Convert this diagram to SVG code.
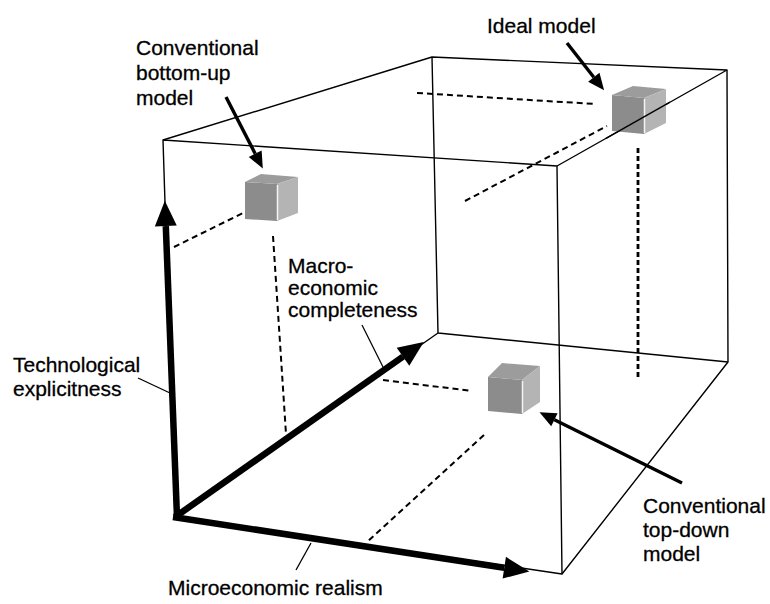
<svg xmlns="http://www.w3.org/2000/svg" width="770" height="604" viewBox="0 0 770 604">
<style>
.edge{fill:none;stroke:#000;stroke-width:1.4;stroke-linejoin:round}
.axis{fill:none;stroke:#000;stroke-width:6.5}
.dash{fill:none;stroke:#000;stroke-width:2;stroke-dasharray:6,4}
.dot{fill:none;stroke:#000;stroke-width:2.8;stroke-dasharray:5,3}
.lead{fill:none;stroke:#000;stroke-width:1.3}
.pointer{fill:none;stroke:#000;stroke-width:3.4}
.front{fill:#8c8c8c}
.top{fill:#9c9c9c}
.right{fill:#b4b4b4}
.hl{stroke:#f4f4f4;stroke-width:1.5}
text{font-family:"Liberation Sans",Arial,sans-serif;font-size:21px;fill:#000;stroke:#000;stroke-width:0.3}
</style>
<defs>
<marker id="bigHead" markerUnits="userSpaceOnUse" markerWidth="30" markerHeight="30" refX="0" refY="0" orient="auto" viewBox="-2 -12 26 24" overflow="visible">
<path d="M0,-9.5 L22,0 L0,9.5 z" fill="#000"/>
</marker>
<marker id="smallHead" markerUnits="userSpaceOnUse" markerWidth="20" markerHeight="20" refX="0" refY="0" orient="auto" viewBox="-2 -8 18 16" overflow="visible">
<path d="M0,-6.5 L15,0 L0,6.5 z" fill="#000"/>
</marker>
</defs>

<g id="box">
<path class="edge" d="M163,140 L557,166 L562,574 L175,517 Z"/>
<path class="edge" d="M163,140 L432,57 L727,70 L557,166"/>
<path class="edge" d="M727,70 L728,362 L562,574"/>
<path class="edge" d="M432,57 L438,333 L728,362"/>
<path class="edge" d="M438,333 L175,517"/>
</g>

<g id="projections">
<path class="dash" d="M174,247 L243,213"/>
<path class="dash" d="M273,236 L286,434"/>
<path class="dash" d="M417,93 L595,104"/>
<path class="dash" d="M465,201 L607,126"/>
<path class="dot" d="M638,148 L638,378"/>
<path class="dash" d="M383,380 L472,391"/>
<path class="dash" d="M484,435 L366,543"/>
</g>

<g id="connectors">
<path class="axis" d="M177,517 L165.8,226" marker-end="url(#bigHead)"/>
<path class="axis" d="M175,517 L403,356.7" marker-end="url(#bigHead)"/>
<path class="axis" d="M173,517 L504.3,567.7" marker-end="url(#bigHead)"/>
<path class="pointer" d="M226,97 L255.2,153.7" marker-end="url(#smallHead)"/>
<path class="pointer" d="M567,43 L593.8,77.2" marker-end="url(#smallHead)"/>
<path class="pointer" d="M682,483 L554.4,419.7" marker-end="url(#smallHead)"/>
<path class="lead" d="M138,378 L170,393"/>
<path class="lead" d="M362,325 L383,367"/>
<path class="lead" d="M296,570 L311,543"/>
</g>

<g id="bottom-up-cube">
<polygon class="front" points="245,182 277,184 277,221 245,219"/>
<polygon class="top" points="245,182 261,174 298,177 277,184"/>
<polygon class="right" points="277,184 298,177 298,213 277,221"/>
<line class="hl" x1="277.5" y1="185" x2="277.5" y2="220"/>
</g>

<g id="ideal-cube">
<polygon class="front" points="612,95 644,98 644,134 612,131"/>
<polygon class="top" points="612,95 633,86 666,89 644,98"/>
<polygon class="right" points="644,98 666,89 666,123 644,134"/>
<line class="hl" x1="644.5" y1="99" x2="644.5" y2="133"/>
<path class="edge" d="M606,138.3 L670,102.2" stroke-width="1.2"/>
</g>

<g id="top-down-cube">
<polygon class="front" points="488,377 522,380 522,414 488,411"/>
<polygon class="top" points="488,377 502,363 540,366 522,380"/>
<polygon class="right" points="522,380 540,366 540,402 522,414"/>
<line class="hl" x1="522.5" y1="381" x2="522.5" y2="413"/>
</g>

<g id="label-bottom-up">
<text x="136" y="55">Conventional</text>
<text x="136" y="80">bottom-up</text>
<text x="136" y="105">model</text>
</g>
<g id="label-ideal">
<text x="487" y="33">Ideal model</text>
</g>
<g id="label-tech">
<text x="13" y="372">Technological</text>
<text x="13" y="396">explicitness</text>
</g>
<g id="label-macro">
<text x="288" y="273">Macro-</text>
<text x="288" y="295">economic</text>
<text x="288" y="317">completeness</text>
</g>
<g id="label-top-down">
<text x="643" y="513">Conventional</text>
<text x="643" y="537">top-down</text>
<text x="643" y="561">model</text>
</g>
<g id="label-micro">
<text x="168" y="595">Microeconomic realism</text>
</g>
</svg>
